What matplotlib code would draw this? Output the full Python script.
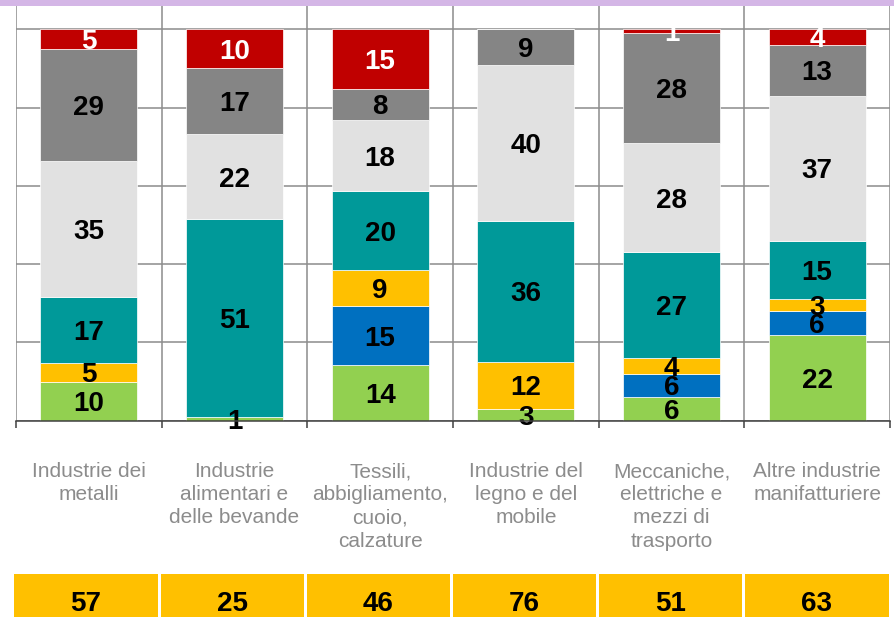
import numpy as np
import matplotlib
matplotlib.use("Agg")
import matplotlib.pyplot as plt
from matplotlib import transforms
from matplotlib.patches import Rectangle


categories = [
    "Industrie dei\nmetalli",
    "Industrie\nalimentari e\ndelle bevande",
    "Tessili,\nabbigliamento,\ncuoio,\ncalzature",
    "Industrie del\nlegno e del\nmobile",
    "Meccaniche,\nelettriche e\nmezzi di\ntrasporto",
    "Altre industrie\nmanifatturiere",
]

# stacked from the bottom up
green = [10, 1, 14, 3, 6, 22]
blue = [0, 0, 15, 0, 6, 6]
yellow = [5, 0, 9, 12, 4, 3]
teal = [17, 51, 20, 36, 27, 15]
light_grey = [35, 22, 18, 40, 28, 37]
dark_grey = [29, 17, 8, 9, 28, 13]
red = [5, 10, 15, 0, 1, 4]

row_values = [57, 25, 46, 76, 51, 63]

series = [
    (green, "#92d050", "black"),
    (blue, "#0070c0", "black"),
    (yellow, "#ffc000", "black"),
    (teal, "#009999", "black"),
    (light_grey, "#e1e1e1", "black"),
    (dark_grey, "#858585", "black"),
    (red, "#c00000", "white"),
]

plt.rcParams["font.family"] = ["Liberation Sans", "DejaVu Sans"]

W, H = 894, 617
fig = plt.figure(figsize=(W / 100, H / 100), dpi=100)

ax_bottom_px = 420.7
ax = fig.add_axes([16 / W, 1 - ax_bottom_px / H, 874 / W, ax_bottom_px / H])

x = np.arange(len(categories))
totals = np.sum([s[0] for s in series], axis=0)
base = np.zeros(len(categories))
cap_offset = -0.716 * 20 / 2

for vals, color, txt_color in series:
    vals = np.array(vals, dtype=float)
    share = vals / totals * 100
    ax.bar(x, share, width=0.666, bottom=base, color=color,
           edgecolor="white", linewidth=0.5, zorder=2)
    for xi, v, b, s in zip(x, vals, base, share):
        if v <= 0:
            continue
        ax.annotate(f"{int(v)}", (xi, b + s / 2), xytext=(0, cap_offset),
                    textcoords="offset points", ha="center", va="baseline",
                    fontsize=20, fontweight="bold", color=txt_color,
                    zorder=3, annotation_clip=False)
    base = base + share

ax.set_xlim(-0.5, len(categories) - 0.5)
ax.set_ylim(0, 107.5)
bounds = np.arange(len(categories) + 1) - 0.5
ax.set_xticks(bounds)
ax.set_xticklabels([])
ax.set_yticks(np.arange(0, 101, 20))
ax.set_yticklabels([])
ax.tick_params(axis="y", length=0)
ax.tick_params(axis="x", direction="out", length=5, width=1.1, color="#404040")
ax.grid(True, color="#8c8c8c", linewidth=1.1)
ax.set_axisbelow(True)
for side in ("top", "right", "left"):
    ax.spines[side].set_visible(False)
ax.spines["bottom"].set_color("#404040")
ax.spines["bottom"].set_linewidth(1.1)
ax.spines["bottom"].set_zorder(4)

label_tr = transforms.blended_transform_factory(ax.transData, fig.transFigure)
for xi, lab in zip(x, categories):
    ax.text(xi, 1 - 462 / H, lab, transform=label_tr, ha="center", va="top",
            fontsize=15, color="#8c8c8c", linespacing=1.28)

# yellow row below the labels
tab = fig.add_axes([13 / W, 0, 877 / W, 43 / H])
tab.bar(x, np.ones(len(x)), width=0.98, color="#ffc000")
tab.set_xlim(-0.5, len(categories) - 0.5)
tab.set_ylim(0, 1)
tab.axis("off")
for xi, v in zip(x, row_values):
    tab.text(xi, 0.14, str(v), ha="center", va="baseline",
             fontsize=20, fontweight="bold", color="black")

fig.patches.append(Rectangle((0, 1 - 6 / H), 1, 6 / H, transform=fig.transFigure,
                             facecolor="#d4b6e6", edgecolor="none", zorder=5))

fig.savefig("out.png", dpi=100)
